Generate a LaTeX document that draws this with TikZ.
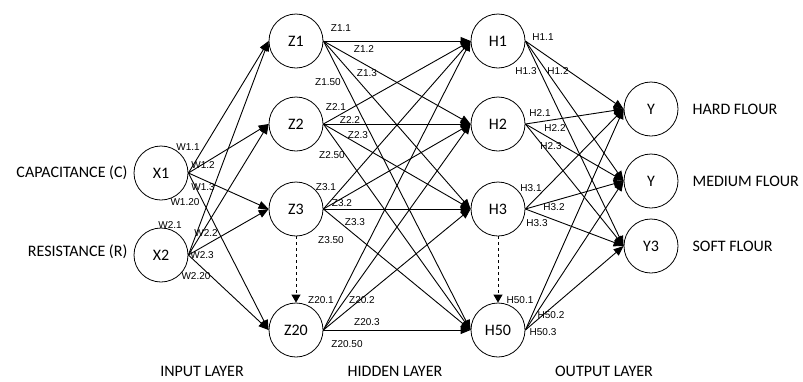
\documentclass[tikz,border=0pt]{standalone}
\usepackage{fontspec}
\setmainfont{Carlito}
\newfontfamily\wfont{Liberation Sans}
\usetikzlibrary{arrows.meta,positioning}

\tikzset{
	neuron/.style={draw, circle, minimum size=54pt, inner sep=0pt, line width=0.8pt, font=\fontsize{16}{18}\selectfont},
	link/.style={line width=0.9pt, -{Triangle[length=10pt,width=8pt]}},
	skip/.style={dashed, line width=1pt, -{Triangle[length=8pt,width=9pt]}},
	wt/.style={font=\wfont\fontsize{10}{11}\selectfont, inner sep=0pt},
	tag/.style={font=\fontsize{16}{18}\selectfont, inner sep=0pt}
}

\begin{document}
\begin{tikzpicture}[x=1pt,y=-1pt]
		\useasboundingbox (0,0) rectangle (803,381);

		\node[neuron] (x1) at (161,173) {X1};
		\node[neuron] (x2) at (161,255) {X2};
		\foreach \n/\y in {1/41,2/124,3/209,20/330}
			\node[neuron] (z\n) at (296,\y) {Z\n};
		\foreach \n/\y in {1/41,2/124,3/209,50/330}
			\node[neuron] (h\n) at (498,\y) {H\n};
		\node[neuron] (y1) at (651,109) {Y};
		\node[neuron] (y2) at (651,181) {Y};
		\node[neuron] (y3) at (651,246) {Y3};

		\node[tag, left=6pt of x1] (capa) {CAPACITANCE (C)};
		\node[tag, left=6pt of x2, yshift=3pt] (resi) {RESISTANCE (R)};
		\node[tag, right=14pt of y1] (hard) {HARD FLOUR};
		\node[tag, right=14pt of y2] (medium) {MEDIUM FLOUR};
		\node[tag, right=14pt of y3] (soft) {SOFT FLOUR};
		\node[tag] (inlayer) at (202,371) {INPUT LAYER};
		\node[tag] (hidlayer) at (395,371) {HIDDEN LAYER};
		\node[tag] (outlayer) at (604,371) {OUTPUT LAYER};

		\foreach \a in {x1,x2}
			\foreach \b in {z1,z2,z3,z20}
				\draw[link] (\a.east) -- (\b.west);
		\foreach \a in {z1,z2,z3,z20}
			\foreach \b in {h1,h2,h3,h50}
				\draw[link] (\a.east) -- (\b.west);
		\foreach \a in {h1,h2,h3,h50}
			\foreach \b in {y1,y2,y3}
				\draw[link] (\a.east) -- (\b.west);

		\draw[skip] (z3) -- (z20);
		\draw[skip] (h3) -- (h50);

		% weights
		\foreach \t/\x/\y [count=\k] in {W1.1/188/147, W1.2/203/165, W1.3/203/187, W1.20/185/202,
				W2.1/170/225, W2.2/206/233, W2.3/202/255, W2.20/196/276,
				Z1.1/341/28, Z1.2/364/49, Z1.3/367/73, Z1.50/328/82,
				Z2.1/336/107, Z2.2/350/120, Z2.3/358/135, Z2.50/332/155,
				Z3.1/326/187, Z3.2/342/203, Z3.3/355/222, Z3.50/331/240,
				Z20.1/321/300, Z20.2/362/300, Z20.3/367/322, Z20.50/347/344,
				H1.1/543/37, H1.3/526/71, H1.2/558/71,
				H2.1/540/113, H2.2/555/128, H2.3/551/146,
				H3.1/531/188, H3.2/554/207, H3.3/537/223,
				H50.1/520/300, H50.2/551/315, H50.3/543/332}
			\node[wt] (wl\k) at (\x,\y) {\t};
	\end{tikzpicture}
\end{document}
